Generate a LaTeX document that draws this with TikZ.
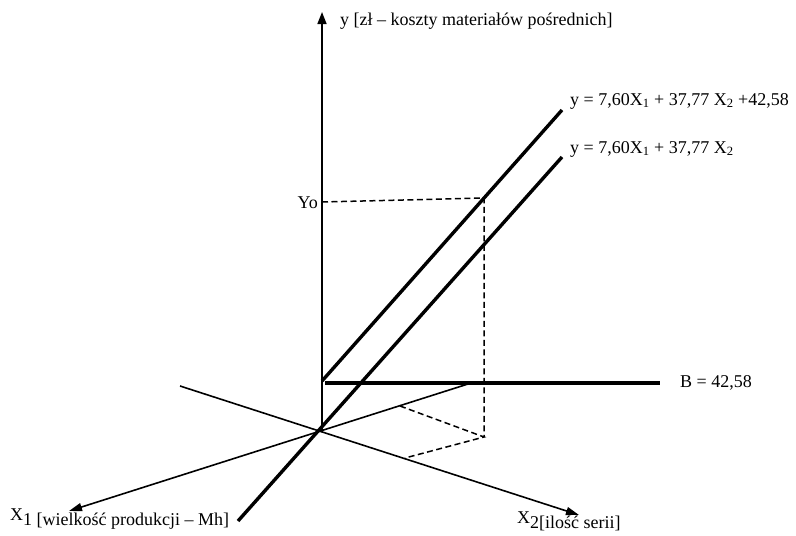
\documentclass[tikz,border=0pt]{standalone}
\usepackage{fontspec}
\setmainfont{Liberation Serif}
\usetikzlibrary{arrows.meta,calc}
\tikzset{
  axis/.style={line width=1.6pt},
  heavy/.style={line width=3.4pt},
  guide/.style={line width=1.5pt, dash pattern=on 6pt off 3.5pt},
  lbl/.style={font=\fontsize{18}{20}\selectfont, inner sep=0pt},
}
\begin{document}
\begin{tikzpicture}[x=1pt, y=-1pt]
\useasboundingbox (0,0) rectangle (796,536);
% Axes
\coordinate (O) at (320,430);
\coordinate (ybot) at (322,432);
\coordinate (ytop) at (322,12);
\coordinate (x1start) at (468,384);
\coordinate (x1end) at (69,511);
\coordinate (x2start) at (180,386);
\coordinate (x2end) at (579,515);
\draw[axis,-{Triangle[length=12pt,width=9pt]}] (ybot) -- (ytop);
\draw[axis,-{Triangle[length=13pt,width=8pt]}] (x1start) -- (x1end);
\draw[axis,-{Triangle[length=13pt,width=8pt]}] (x2start) -- (x2end);
% Regression planes (seen as lines) and intercept
\coordinate (Bstart) at (322,381);
\coordinate (Btop) at (562,110);
\coordinate (Abot) at (238,521);
\coordinate (Atop) at (562,157);
\draw[heavy] (Bstart) -- (Btop);
\draw[heavy] (Abot) -- (Atop);
\coordinate (Bleft) at (325,383);
\coordinate (Bright) at (660,383);
\draw[heavy] (Bleft) -- (Bright);
% Projection of the point Yo
\coordinate (Yaxis) at (322,202);
\coordinate (P) at (484,198);
\coordinate (F) at (484,437);
\coordinate (F1) at (400,406);
\coordinate (F2) at (405,458);
\draw[guide] (Yaxis) -- (P) -- (F);
\draw[guide] (F1) -- (F) -- (F2);
% Labels
\node[lbl, anchor=west] (ylabel) at (340,21) {y [zł – koszty materiałów pośrednich]};
\node[lbl, anchor=west] (eqB) at (570,101) {y = 7,60X\textsubscript{1} + 37,77 X\textsubscript{2} +42,58};
\node[lbl, anchor=west] (eqA) at (570,149) {y = 7,60X\textsubscript{1} + 37,77 X\textsubscript{2}};
\node[lbl, anchor=west] (Blabel) at (680,383) {B = 42,58};
\node[lbl, anchor=east] (Yo) at (318,203) {Yo};
\node[lbl, anchor=west] (x1label) at (10,519) {X\raisebox{-5pt}{1 [wielkość produkcji – Mh]}};
\node[lbl, anchor=west] (x2label) at (517,521) {X\raisebox{-5pt}{2[ilość serii]}};
\end{tikzpicture}
\end{document}
